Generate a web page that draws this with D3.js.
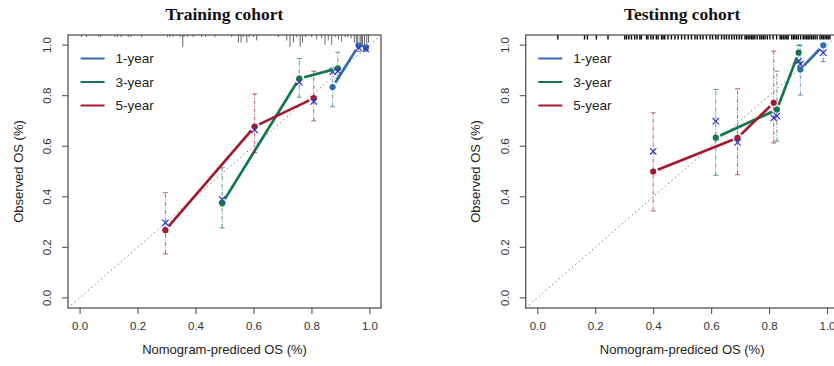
<!DOCTYPE html>
<html><head><meta charset="utf-8">
<script src="https://cdn.jsdelivr.net/npm/d3@7"></script>
<style>body{margin:0;background:#fff}svg{display:block}</style>
</head><body><svg id="c" width="834" height="366"></svg>
<script>
// ---------- data ----------
const titles = ["Training cohort", "Testinng cohort"];
const seriesNames = ["1-year", "3-year", "5-year"];
const tickValues = [0, 0.2, 0.4, 0.6, 0.8, 1.0];
const tickLabels = ["0.0", "0.2", "0.4", "0.6", "0.8", "1.0"];
const xTitle = "Nomogram-prediced OS (%)";
const yTitle = "Observed OS (%)";

// Training cohort
const train1Pred = [0.873, 0.963, 0.988];
const train1Obs  = [0.834, 0.998, 0.990];
const train1Lo   = [0.756, 0.975, 0.975];
const train1Hi   = [0.910, 1.000, 1.000];
const train1Cor  = [0.895, 0.990, 0.985];

const train3Pred = [0.492, 0.758, 0.891];
const train3Obs  = [0.374, 0.868, 0.908];
const train3Lo   = [0.277, 0.794, 0.870];
const train3Hi   = [0.515, 0.947, 0.972];
const train3Cor  = [0.390, 0.853, 0.897];

const train5Pred = [0.296, 0.604, 0.808];
const train5Obs  = [0.268, 0.678, 0.790];
const train5Lo   = [0.174, 0.575, 0.700];
const train5Hi   = [0.416, 0.807, 0.897];
const train5Cor  = [0.297, 0.665, 0.777];

const trainRugPred = [0.007,0.024,0.065,0.073,0.122,0.131,0.143,0.168,0.177,0.214,0.303,0.312,0.323,0.347,0.356,0.360,0.373,0.392,0.421,0.435,0.467,
  0.525,0.548,0.557,0.565,0.577,0.585,0.600,0.611,0.686,0.715,0.726,0.738,0.749,0.761,0.769,0.780,0.801,0.818,0.835,0.847,0.858,0.870,0.882,0.893,0.904,0.916,0.925,0.937,0.948,0.955,0.960,0.968,0.972,0.976,0.983,0.991,0.997];
const trainRugFreq = [1,1,1,1,1,1,1,1,1,1,1,1,1,1,5.5,1,1,1,1,1,1,
  1,3.5,3.5,1,3.5,1,1,2.5,1,2.5,5.5,3.5,1,5.5,3.5,1,1,2,1.5,4.5,2.5,4.5,1,2,3,1,1,1.5,3.5,4,5.5,5.5,5.5,5.5,5.5,4.5,3.5];

// Testing cohort
const test1Pred = [0.908, 0.987];
const test1Obs  = [0.904, 0.999];
const test1Lo   = [0.802, 0.935];
const test1Hi   = [1.000, 1.000];
const test1Cor  = [0.925, 0.970];

const test3Pred = [0.616, 0.827, 0.902];
const test3Obs  = [0.634, 0.745, 0.970];
const test3Lo   = [0.485, 0.620, 0.930];
const test3Hi   = [0.824, 0.897, 1.000];
const test3Cor  = [0.699, 0.719, 0.937];

const test5Pred = [0.400, 0.691, 0.816];
const test5Obs  = [0.500, 0.633, 0.772];
const test5Lo   = [0.344, 0.487, 0.613];
const test5Hi   = [0.732, 0.827, 0.976];
const test5Cor  = [0.580, 0.615, 0.712];

const testRugPred = [0.071,0.163,0.173,0.204,0.244,0.302,0.308,0.316,0.325,0.336,0.344,0.354,0.359,0.377,0.382,0.392,0.400,0.411,0.417,0.429,0.434,0.440,0.451,0.463,0.475,0.486,
  0.498,0.509,0.521,0.532,0.544,0.552,0.563,0.572,0.584,0.596,0.605,0.616,0.624,0.636,0.645,0.653,0.662,0.671,0.680,0.688,0.697,0.705,0.717,0.722,0.728,0.734,0.740,0.745,0.751,0.759,0.768,0.774,0.780,0.786,0.794,0.803,0.814,0.826,0.838,0.843,0.849,0.855,0.861,0.866,0.878,0.884,0.889,0.895,0.901,0.909,0.918,0.924,0.930,0.935,0.941,0.947,0.953,0.959,0.966,0.976,0.982,0.987,0.993,0.999,1.004,1.010];

// ---------- drawing ----------
const colors = {"1-year": "#2e6db4", "3-year": "#12774a", "5-year": "#a3192f"};
const corColor = "#3535c8";
const svg = d3.select("#c");
const sans = "'Liberation Sans', Arial, Helvetica, sans-serif";

function mk(pred, obs, lo, hi, cor){ return pred.map((p,i)=>({p, o:obs[i], lo:lo[i], hi:hi[i], c:cor[i]})); }

const panels = [
  { title: titles[0], left: 68, right: 381, top: 35, bottom: 308,
    series: {"1-year": mk(train1Pred,train1Obs,train1Lo,train1Hi,train1Cor),
             "3-year": mk(train3Pred,train3Obs,train3Lo,train3Hi,train3Cor),
             "5-year": mk(train5Pred,train5Obs,train5Lo,train5Hi,train5Cor)},
    rug: trainRugPred.map((p,i)=>({p, f: trainRugFreq[i]})), rugType: "hist" },
  { title: titles[1], left: 525.7, right: 838.6, top: 35, bottom: 308,
    series: {"1-year": mk(test1Pred,test1Obs,test1Lo,test1Hi,test1Cor),
             "3-year": mk(test3Pred,test3Obs,test3Lo,test3Hi,test3Cor),
             "5-year": mk(test5Pred,test5Obs,test5Lo,test5Hi,test5Cor)},
    rug: testRugPred.map(p=>({p, f: 1})), rugType: "rug" }
];

panels.forEach((P, pi) => {
  const x = d3.scaleLinear().domain([-0.04, 1.04]).range([P.left, P.right]);
  const y = d3.scaleLinear().domain([-0.04, 1.04]).range([P.bottom, P.top]);
  const g = svg.append("g");
  const cx = (P.left + P.right) / 2;
  const cy = (P.top + P.bottom) / 2;
  const clipId = "clip" + pi;
  svg.append("clipPath").attr("id", clipId).append("rect")
    .attr("x", P.left).attr("y", P.top).attr("width", P.right - P.left).attr("height", P.bottom - P.top);

  // title
  g.append("text").attr("x", cx).attr("y", 19.5).attr("text-anchor", "middle")
    .style("font-family", "'Liberation Serif', 'Times New Roman', serif").style("font-weight", "bold")
    .style("font-size", "17.5px").attr("fill", "#111").text(P.title);

  // axes
  const xAxis = d3.axisBottom(x).tickValues(tickValues).tickFormat((d,i)=>tickLabels[i]).tickSize(6).tickPadding(8);
  const gx = g.append("g").attr("transform", `translate(0,${P.bottom})`).call(xAxis);
  gx.select(".domain").remove();
  gx.selectAll("line").attr("stroke", "#555").attr("stroke-width", 1.1);
  gx.selectAll("text").style("font-family", sans).style("font-size", "11.5px").attr("fill", "#333");

  const yAxis = d3.axisLeft(y).tickValues(tickValues).tickFormat((d,i)=>tickLabels[i]).tickSize(6);
  const gy = g.append("g").attr("transform", `translate(${P.left},0)`).call(yAxis);
  gy.select(".domain").remove();
  gy.selectAll("line").attr("stroke", "#555").attr("stroke-width", 1.1);
  gy.selectAll("text").attr("x", null).attr("dy", null).attr("y", 0).attr("text-anchor", "middle")
    .attr("dominant-baseline", "central")
    .style("font-family", sans).style("font-size", "11.5px").attr("fill", "#333");
  gy.selectAll(".tick").attr("transform", null);
  gy.selectAll(".tick line").attr("transform", d => `translate(0,${y(d)})`);
  gy.selectAll(".tick text").attr("transform", d => `translate(-21,${y(d)}) rotate(-90)`);

  // axis titles
  g.append("text").attr("x", cx).attr("y", 354).attr("text-anchor", "middle")
    .style("font-family", sans).style("font-size", "13px").attr("fill", "#222").text(xTitle);
  g.append("text").attr("transform", `translate(${P.left - 50},${cy}) rotate(-90)`).attr("text-anchor", "middle")
    .attr("dominant-baseline", "central")
    .style("font-family", sans).style("font-size", "13px").attr("fill", "#222").text(yTitle);

  const plot = g.append("g").attr("clip-path", `url(#${clipId})`);

  // diagonal
  plot.append("line").attr("x1", x(-0.04)).attr("y1", y(-0.04)).attr("x2", x(1.04)).attr("y2", y(1.04))
    .attr("stroke", "#666").attr("stroke-width", 1).attr("stroke-dasharray", "1.2,3.2");

  // rug
  if (P.rugType === "hist") {
    const h = d3.scaleLinear().domain([0, 6]).range([0, 13]);
    plot.selectAll(".rug").data(P.rug).join("line")
      .attr("x1", d => x(d.p)).attr("x2", d => x(d.p))
      .attr("y1", P.top).attr("y2", d => P.top + h(d.f))
      .attr("stroke", "#666").attr("stroke-width", 1);
  } else {
    plot.selectAll(".rug").data(P.rug).join("line")
      .attr("x1", d => x(d.p)).attr("x2", d => x(d.p))
      .attr("y1", P.top).attr("y2", P.top + 4.5)
      .attr("stroke", "#000").attr("stroke-width", 1.4);
  }

  // series
  seriesNames.forEach(name => {
    const data = P.series[name];
    const col = colors[name];
    // error bars
    data.forEach(d => {
      plot.append("line").attr("x1", x(d.p)).attr("x2", x(d.p)).attr("y1", y(d.lo)).attr("y2", y(d.hi))
        .attr("stroke", col).attr("stroke-opacity", 0.7).attr("stroke-width", 1)
        .attr("stroke-dasharray", "4,1.5,1,1.5");
      [d.lo, d.hi].forEach(v => {
        plot.append("line").attr("x1", x(d.p) - 2.5).attr("x2", x(d.p) + 2.5).attr("y1", y(v)).attr("y2", y(v))
          .attr("stroke", col).attr("stroke-opacity", 0.7).attr("stroke-width", 1);
      });
    });
    // lines with gaps (type "b")
    const gap = 5;
    for (let i = 0; i < data.length - 1; i++) {
      const x1 = x(data[i].p), y1 = y(data[i].o), x2 = x(data[i+1].p), y2 = y(data[i+1].o);
      const len = Math.hypot(x2 - x1, y2 - y1);
      if (len <= 2 * gap) continue;
      const ux = (x2 - x1) / len, uy = (y2 - y1) / len;
      plot.append("line").attr("x1", x1 + ux * gap).attr("y1", y1 + uy * gap)
        .attr("x2", x2 - ux * gap).attr("y2", y2 - uy * gap)
        .attr("stroke", col).attr("stroke-width", 2.7).attr("stroke-linecap", "butt");
    }
    // points
    plot.selectAll(null).data(data).join("circle")
      .attr("cx", d => x(d.p)).attr("cy", d => y(d.o)).attr("r", 3.1).attr("fill", col);
    // corrected markers (x)
    plot.selectAll(null).data(data).join("path")
      .attr("d", d => { const X = x(d.p), Y = y(d.c), s = 3.2;
        return `M${X-s},${Y-s}L${X+s},${Y+s}M${X-s},${Y+s}L${X+s},${Y-s}`; })
      .attr("stroke", corColor).attr("stroke-width", 1.2).attr("fill", "none");
  });

  // frame
  g.append("rect").attr("x", P.left).attr("y", P.top).attr("width", P.right - P.left).attr("height", P.bottom - P.top)
    .attr("fill", "none").attr("stroke", "#555").attr("stroke-width", 1.3);

  // legend
  const lx = x(0.0) + 1, ly0 = 58.5, dy = 23.5;
  seriesNames.forEach((name, i) => {
    const yy = ly0 + i * dy;
    g.append("line").attr("x1", lx).attr("x2", lx + 24).attr("y1", yy).attr("y2", yy)
      .attr("stroke", colors[name]).attr("stroke-width", 2);
    g.append("text").attr("x", lx + 35).attr("y", yy).attr("dominant-baseline", "central")
      .style("font-family", sans).style("font-size", "13.5px").attr("fill", "#222").text(name);
  });
});
</script></body></html>
